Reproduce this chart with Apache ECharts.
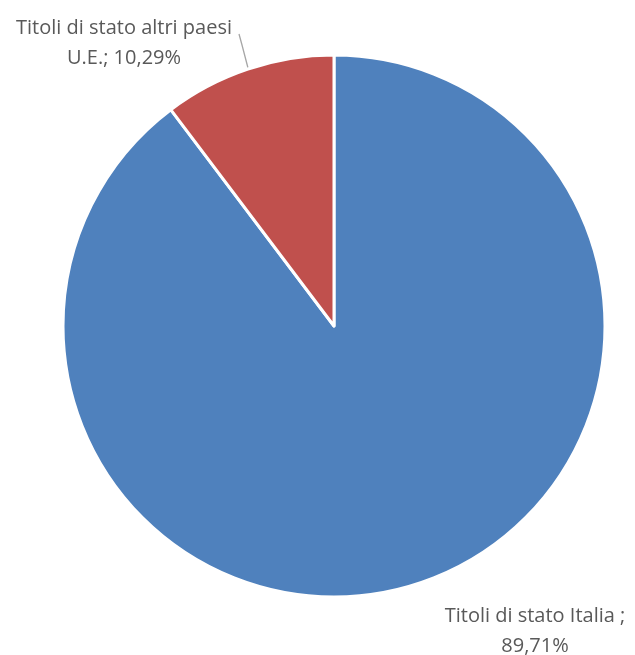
<!DOCTYPE html>
<html>
<head>
<meta charset="utf-8">
<script src="https://cdn.jsdelivr.net/npm/echarts@6/dist/echarts.min.js"></script>
<style>
  html, body { margin: 0; padding: 0; background: #fff; }
  #chart { width: 635px; height: 655px; }
</style>
</head>
<body>
<div id="chart"></div>
<script>
// Composition of government bond holdings
const categories = ['Titoli di stato Italia', 'Titoli di stato altri paesi U.E.'];
const shares = [89.71, 10.29];
const labelTexts = ['Titoli di stato Italia ;\n89,71%', 'Titoli di stato altri paesi\nU.E.; 10,29%'];
const colors = ['#4F81BD', '#C0504D'];

const chart = echarts.init(document.getElementById('chart'));

const data = categories.map((name, i) => ({
  name,
  value: shares[i],
  itemStyle: { color: colors[i] },
  label: { formatter: labelTexts[i] },
  labelLine: { show: i === 1 }
}));

chart.setOption({
  animation: false,
  backgroundColor: '#ffffff',
  series: [{
    type: 'pie',
    center: [334, 326],
    radius: [0, 271],
    startAngle: 90,
    clockwise: true,
    data,
    itemStyle: { borderColor: '#ffffff', borderWidth: 3 },
    label: {
      show: true,
      color: '#595959',
      fontFamily: 'Open Sans',
      fontSize: 20,
      lineHeight: 30,
      align: 'center',
      overflow: 'none',
      width: 300
    },
    labelLine: {
      show: true,
      lineStyle: { color: '#A6A6A6', width: 1.3 }
    },
    labelLayout: function (params) {
      if (params.dataIndex === 1) {
        return {
          x: 124, y: 43, align: 'center', verticalAlign: 'middle',
          labelLinePoints: [[248, 68], [242, 45], [239, 34]]
        };
      }
      return { x: 535, y: 631, align: 'center', verticalAlign: 'middle' };
    }
  }]
});
</script>
</body>
</html>
